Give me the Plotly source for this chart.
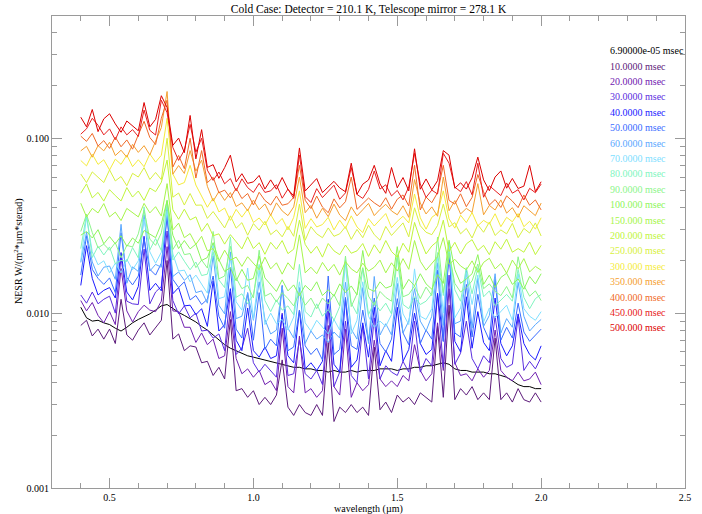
import plotly.graph_objects as go

WAVELENGTH = [0.40, 0.42, 0.44, 0.46, 0.48, 0.50, 0.52, 0.54, 0.56, 0.58,
              0.60, 0.62, 0.64, 0.66, 0.68, 0.70, 0.72, 0.74, 0.76, 0.78,
              0.80, 0.82, 0.84, 0.86, 0.88, 0.90, 0.92, 0.94, 0.96, 0.98,
              1.00, 1.02, 1.04, 1.06, 1.08, 1.10, 1.12, 1.14, 1.16, 1.18,
              1.20, 1.22, 1.24, 1.26, 1.28, 1.30, 1.32, 1.34, 1.36, 1.38,
              1.40, 1.42, 1.44, 1.46, 1.48, 1.50, 1.52, 1.54, 1.56, 1.58,
              1.60, 1.62, 1.64, 1.66, 1.68, 1.70, 1.72, 1.74, 1.76, 1.78,
              1.80, 1.82, 1.84, 1.86, 1.88, 1.90, 1.92, 1.94, 1.96, 1.98,
              2.00]

LABELS = ["6.90000e-05 msec", "10.0000 msec", "20.0000 msec", "30.0000 msec",
          "40.0000 msec", "50.0000 msec", "60.0000 msec", "70.0000 msec",
          "80.0000 msec", "90.0000 msec", "100.000 msec", "150.000 msec",
          "200.000 msec", "250.000 msec", "300.000 msec", "350.000 msec",
          "400.000 msec", "450.000 msec", "500.000 msec"]

COLORS = ["#000000", "#5c1a7a", "#7020b0", "#5a2ee0", "#1a1aff", "#3a6cff",
          "#5aa8ff", "#80e0ff", "#80f5c0", "#8cf58a", "#8cf55a", "#a6f54a",
          "#c0f53c", "#d8f040", "#f5ec3c", "#f5a030", "#f06a28", "#e82020",
          "#dc0000"]

NESR_0000 = [0.0108, 0.0094, 0.0090, 0.0091, 0.0088, 0.0086, 0.0082, 0.0079, 0.0083, 0.0088,
             0.0092, 0.0095, 0.0099, 0.0104, 0.0110, 0.0112, 0.0106, 0.0101, 0.0097, 0.0093,
             0.0089, 0.0084, 0.0080, 0.0075, 0.0070, 0.0066, 0.0063, 0.0061, 0.0059, 0.0057,
             0.0056, 0.0055, 0.0054, 0.0053, 0.0052, 0.0051, 0.0050, 0.0049, 0.0049, 0.0048,
             0.0048, 0.0047, 0.0047, 0.0046, 0.0047, 0.0046, 0.0046, 0.0047, 0.0046, 0.0047,
             0.0047, 0.0047, 0.0048, 0.0048, 0.0048, 0.0047, 0.0048, 0.0048, 0.0049, 0.0049,
             0.0050, 0.0050, 0.0051, 0.0052, 0.0051, 0.0048, 0.0047, 0.0047, 0.0046, 0.0046,
             0.0046, 0.0045, 0.0045, 0.0044, 0.0043, 0.0041, 0.0039, 0.0038, 0.0038, 0.0037,
             0.0037]

NESR_010 = [0.0085, 0.0091, 0.0074, 0.0081, 0.0071, 0.0081, 0.0067, 0.0120, 0.0075, 0.0070,
            0.0080, 0.0088, 0.0075, 0.0083, 0.0091, 0.0200, 0.0071, 0.0076, 0.0061, 0.0065,
            0.0064, 0.0052, 0.0053, 0.0044, 0.0049, 0.0042, 0.0092, 0.0036, 0.0037, 0.0033,
            0.0036, 0.0030, 0.0033, 0.0030, 0.0034, 0.0054, 0.0029, 0.0026, 0.0030, 0.0027,
            0.0026, 0.0030, 0.0026, 0.0068, 0.0024, 0.0029, 0.0027, 0.0030, 0.0027, 0.0029,
            0.0026, 0.0064, 0.0028, 0.0031, 0.0027, 0.0034, 0.0031, 0.0033, 0.0030, 0.0035,
            0.0033, 0.0031, 0.0084, 0.0033, 0.0111, 0.0032, 0.0037, 0.0034, 0.0038, 0.0032,
            0.0035, 0.0032, 0.0072, 0.0032, 0.0035, 0.0031, 0.0037, 0.0032, 0.0031, 0.0035,
            0.0031]

NESR_020 = [0.0118, 0.0103, 0.0115, 0.0097, 0.0088, 0.0102, 0.0086, 0.0180, 0.0103, 0.0089,
            0.0102, 0.0111, 0.0104, 0.0102, 0.0117, 0.0240, 0.0103, 0.0102, 0.0083, 0.0083,
            0.0068, 0.0077, 0.0066, 0.0071, 0.0055, 0.0057, 0.0102, 0.0055, 0.0045, 0.0048,
            0.0043, 0.0047, 0.0039, 0.0041, 0.0036, 0.0082, 0.0038, 0.0035, 0.0074, 0.0035,
            0.0037, 0.0033, 0.0036, 0.0085, 0.0038, 0.0034, 0.0081, 0.0033, 0.0040, 0.0036,
            0.0039, 0.0070, 0.0042, 0.0038, 0.0041, 0.0038, 0.0044, 0.0041, 0.0066, 0.0047,
            0.0041, 0.0045, 0.0088, 0.0047, 0.0138, 0.0052, 0.0044, 0.0045, 0.0041, 0.0048,
            0.0043, 0.0047, 0.0080, 0.0047, 0.0043, 0.0041, 0.0046, 0.0041, 0.0042, 0.0046,
            0.0039]

NESR_030 = [0.0127, 0.0114, 0.0132, 0.0113, 0.0120, 0.0125, 0.0100, 0.0208, 0.0117, 0.0113,
            0.0112, 0.0232, 0.0113, 0.0132, 0.0142, 0.0295, 0.0118, 0.0099, 0.0110, 0.0094,
            0.0100, 0.0079, 0.0080, 0.0072, 0.0076, 0.0061, 0.0132, 0.0058, 0.0063, 0.0082,
            0.0052, 0.0046, 0.0051, 0.0047, 0.0043, 0.0100, 0.0044, 0.0045, 0.0070, 0.0045,
            0.0042, 0.0047, 0.0039, 0.0105, 0.0038, 0.0046, 0.0090, 0.0044, 0.0040, 0.0085,
            0.0042, 0.0094, 0.0042, 0.0050, 0.0046, 0.0044, 0.0053, 0.0046, 0.0090, 0.0046,
            0.0055, 0.0050, 0.0128, 0.0049, 0.0165, 0.0051, 0.0059, 0.0090, 0.0055, 0.0048,
            0.0057, 0.0052, 0.0096, 0.0055, 0.0049, 0.0051, 0.0095, 0.0047, 0.0053, 0.0048,
            0.0056]

NESR_040 = [0.0144, 0.0243, 0.0158, 0.0127, 0.0135, 0.0140, 0.0122, 0.0222, 0.0132, 0.0119,
            0.0142, 0.0275, 0.0135, 0.0148, 0.0134, 0.0390, 0.0129, 0.0140, 0.0110, 0.0111,
            0.0098, 0.0106, 0.0084, 0.0153, 0.0079, 0.0086, 0.0138, 0.0070, 0.0061, 0.0107,
            0.0061, 0.0056, 0.0064, 0.0055, 0.0057, 0.0098, 0.0057, 0.0052, 0.0104, 0.0048,
            0.0052, 0.0047, 0.0053, 0.0120, 0.0051, 0.0046, 0.0121, 0.0049, 0.0054, 0.0088,
            0.0056, 0.0108, 0.0050, 0.0061, 0.0053, 0.0108, 0.0053, 0.0062, 0.0100, 0.0067,
            0.0058, 0.0062, 0.0130, 0.0069, 0.0228, 0.0069, 0.0060, 0.0124, 0.0063, 0.0102,
            0.0068, 0.0061, 0.0122, 0.0067, 0.0057, 0.0065, 0.0099, 0.0067, 0.0058, 0.0054,
            0.0065]

NESR_050 = [0.0165, 0.0277, 0.0178, 0.0158, 0.0146, 0.0159, 0.0131, 0.0288, 0.0160, 0.0145,
            0.0163, 0.0265, 0.0178, 0.0165, 0.0193, 0.0357, 0.0156, 0.0140, 0.0151, 0.0119,
            0.0126, 0.0112, 0.0120, 0.0163, 0.0096, 0.0082, 0.0182, 0.0081, 0.0072, 0.0131,
            0.0070, 0.0131, 0.0062, 0.0071, 0.0065, 0.0144, 0.0061, 0.0064, 0.0104, 0.0065,
            0.0058, 0.0063, 0.0054, 0.0163, 0.0058, 0.0062, 0.0123, 0.0065, 0.0062, 0.0104,
            0.0069, 0.0122, 0.0067, 0.0060, 0.0071, 0.0121, 0.0077, 0.0066, 0.0122, 0.0067,
            0.0080, 0.0071, 0.0176, 0.0069, 0.0238, 0.0077, 0.0073, 0.0146, 0.0073, 0.0128,
            0.0083, 0.0070, 0.0156, 0.0070, 0.0083, 0.0072, 0.0114, 0.0078, 0.0069, 0.0075,
            0.0081]

NESR_060 = [0.0195, 0.0290, 0.0196, 0.0163, 0.0183, 0.0186, 0.0156, 0.0322, 0.0148, 0.0184,
            0.0173, 0.0365, 0.0174, 0.0190, 0.0183, 0.0404, 0.0162, 0.0172, 0.0154, 0.0166,
            0.0131, 0.0134, 0.0114, 0.0213, 0.0111, 0.0099, 0.0224, 0.0093, 0.0096, 0.0130,
            0.0091, 0.0151, 0.0092, 0.0076, 0.0080, 0.0142, 0.0082, 0.0072, 0.0140, 0.0067,
            0.0079, 0.0071, 0.0075, 0.0068, 0.0078, 0.0072, 0.0150, 0.0081, 0.0071, 0.0140,
            0.0067, 0.0162, 0.0075, 0.0087, 0.0075, 0.0148, 0.0077, 0.0090, 0.0138, 0.0090,
            0.0079, 0.0096, 0.0194, 0.0085, 0.0243, 0.0087, 0.0090, 0.0176, 0.0082, 0.0158,
            0.0084, 0.0097, 0.0168, 0.0077, 0.0093, 0.0083, 0.0150, 0.0096, 0.0079, 0.0086,
            0.0092]

NESR_070 = [0.0199, 0.0354, 0.0224, 0.0189, 0.0199, 0.0170, 0.0193, 0.0170, 0.0203, 0.0177,
            0.0199, 0.0346, 0.0224, 0.0193, 0.0223, 0.0384, 0.0218, 0.0174, 0.0176, 0.0151,
            0.0165, 0.0146, 0.0130, 0.0250, 0.0121, 0.0124, 0.0208, 0.0116, 0.0104, 0.0181,
            0.0092, 0.0176, 0.0086, 0.0100, 0.0087, 0.0092, 0.0080, 0.0095, 0.0151, 0.0088,
            0.0079, 0.0091, 0.0083, 0.0076, 0.0092, 0.0080, 0.0194, 0.0076, 0.0091, 0.0151,
            0.0096, 0.0083, 0.0090, 0.0084, 0.0098, 0.0160, 0.0099, 0.0086, 0.0179, 0.0096,
            0.0092, 0.0106, 0.0211, 0.0100, 0.0255, 0.0094, 0.0107, 0.0171, 0.0112, 0.0165,
            0.0089, 0.0107, 0.0094, 0.0102, 0.0111, 0.0091, 0.0168, 0.0106, 0.0096, 0.0091,
            0.0102]

NESR_080 = [0.0234, 0.0368, 0.0208, 0.0241, 0.0215, 0.0239, 0.0192, 0.0200, 0.0198, 0.0237,
            0.0207, 0.0405, 0.0230, 0.0267, 0.0228, 0.0427, 0.0201, 0.0224, 0.0198, 0.0177,
            0.0196, 0.0164, 0.0167, 0.0224, 0.0155, 0.0140, 0.0272, 0.0123, 0.0129, 0.0113,
            0.0128, 0.0190, 0.0118, 0.0102, 0.0119, 0.0104, 0.0110, 0.0098, 0.0190, 0.0102,
            0.0095, 0.0113, 0.0096, 0.0105, 0.0091, 0.0109, 0.0202, 0.0114, 0.0099, 0.0180,
            0.0098, 0.0116, 0.0103, 0.0114, 0.0099, 0.0207, 0.0112, 0.0106, 0.0124, 0.0112,
            0.0117, 0.0129, 0.0222, 0.0126, 0.0230, 0.0136, 0.0117, 0.0182, 0.0129, 0.0182,
            0.0124, 0.0134, 0.0110, 0.0119, 0.0128, 0.0117, 0.0178, 0.0123, 0.0106, 0.0121,
            0.0128]

NESR_090 = [0.0293, 0.0367, 0.0289, 0.0236, 0.0248, 0.0229, 0.0253, 0.0207, 0.0244, 0.0239,
            0.0284, 0.0387, 0.0265, 0.0244, 0.0288, 0.0442, 0.0231, 0.0261, 0.0216, 0.0219,
            0.0182, 0.0201, 0.0181, 0.0293, 0.0157, 0.0163, 0.0241, 0.0159, 0.0138, 0.0144,
            0.0122, 0.0229, 0.0125, 0.0130, 0.0116, 0.0131, 0.0121, 0.0110, 0.0131, 0.0111,
            0.0122, 0.0106, 0.0122, 0.0113, 0.0128, 0.0110, 0.0212, 0.0109, 0.0129, 0.0182,
            0.0125, 0.0111, 0.0133, 0.0123, 0.0117, 0.0216, 0.0124, 0.0128, 0.0143, 0.0121,
            0.0141, 0.0126, 0.0272, 0.0131, 0.0221, 0.0148, 0.0132, 0.0140, 0.0153, 0.0191,
            0.0138, 0.0147, 0.0133, 0.0126, 0.0142, 0.0122, 0.0210, 0.0144, 0.0125, 0.0134,
            0.0118]

NESR_100 = [0.0279, 0.0293, 0.0269, 0.0300, 0.0249, 0.0274, 0.0249, 0.0277, 0.0241, 0.0269,
            0.0251, 0.0297, 0.0283, 0.0270, 0.0324, 0.0440, 0.0279, 0.0234, 0.0260, 0.0233,
            0.0248, 0.0200, 0.0208, 0.0253, 0.0202, 0.0173, 0.0182, 0.0153, 0.0178, 0.0154,
            0.0158, 0.0212, 0.0159, 0.0145, 0.0133, 0.0155, 0.0134, 0.0145, 0.0126, 0.0144,
            0.0134, 0.0151, 0.0126, 0.0136, 0.0125, 0.0147, 0.0131, 0.0143, 0.0127, 0.0228,
            0.0138, 0.0133, 0.0151, 0.0139, 0.0143, 0.0240, 0.0137, 0.0156, 0.0143, 0.0168,
            0.0147, 0.0137, 0.0166, 0.0148, 0.0261, 0.0177, 0.0148, 0.0157, 0.0168, 0.0216,
            0.0146, 0.0165, 0.0140, 0.0160, 0.0169, 0.0146, 0.0157, 0.0137, 0.0162, 0.0147,
            0.0168]

NESR_150 = [0.0425, 0.0355, 0.0397, 0.0374, 0.0423, 0.0355, 0.0378, 0.0338, 0.0397, 0.0374,
            0.0355, 0.0424, 0.0374, 0.0406, 0.0359, 0.0550, 0.0299, 0.0327, 0.0270, 0.0285,
            0.0247, 0.0275, 0.0227, 0.0234, 0.0198, 0.0229, 0.0201, 0.0209, 0.0185, 0.0210,
            0.0192, 0.0177, 0.0209, 0.0179, 0.0194, 0.0167, 0.0194, 0.0177, 0.0280, 0.0170,
            0.0183, 0.0168, 0.0195, 0.0174, 0.0190, 0.0165, 0.0197, 0.0179, 0.0170, 0.0193,
            0.0174, 0.0183, 0.0201, 0.0170, 0.0194, 0.0174, 0.0205, 0.0178, 0.0260, 0.0198,
            0.0176, 0.0193, 0.0210, 0.0270, 0.0190, 0.0203, 0.0186, 0.0177, 0.0199, 0.0171,
            0.0195, 0.0206, 0.0179, 0.0192, 0.0169, 0.0201, 0.0179, 0.0205, 0.0172, 0.0185,
            0.0176]

NESR_200 = [0.0485, 0.0548, 0.0456, 0.0490, 0.0437, 0.0508, 0.0470, 0.0438, 0.0522, 0.0461,
            0.0499, 0.0441, 0.0519, 0.0495, 0.0560, 0.0750, 0.0390, 0.0344, 0.0393, 0.0341,
            0.0355, 0.0293, 0.0326, 0.0277, 0.0284, 0.0248, 0.0281, 0.0255, 0.0233, 0.0273,
            0.0234, 0.0253, 0.0217, 0.0254, 0.0232, 0.0260, 0.0219, 0.0232, 0.0340, 0.0247,
            0.0220, 0.0241, 0.0209, 0.0250, 0.0227, 0.0216, 0.0245, 0.0220, 0.0227, 0.0250,
            0.0211, 0.0246, 0.0220, 0.0260, 0.0225, 0.0209, 0.0251, 0.0223, 0.0330, 0.0262,
            0.0218, 0.0242, 0.0258, 0.0340, 0.0225, 0.0254, 0.0218, 0.0249, 0.0263, 0.0228,
            0.0244, 0.0216, 0.0256, 0.0232, 0.0265, 0.0223, 0.0234, 0.0223, 0.0255, 0.0216,
            0.0244]

NESR_250 = [0.0624, 0.0558, 0.0642, 0.0600, 0.0558, 0.0659, 0.0570, 0.0604, 0.0535, 0.0630,
            0.0600, 0.0679, 0.0581, 0.0637, 0.0580, 0.1000, 0.0460, 0.0486, 0.0415, 0.0483,
            0.0414, 0.0415, 0.0348, 0.0381, 0.0341, 0.0307, 0.0360, 0.0306, 0.0329, 0.0279,
            0.0325, 0.0298, 0.0335, 0.0281, 0.0299, 0.0273, 0.0313, 0.0275, 0.0420, 0.0261,
            0.0312, 0.0284, 0.0270, 0.0307, 0.0275, 0.0284, 0.0312, 0.0264, 0.0301, 0.0270,
            0.0318, 0.0281, 0.0261, 0.0313, 0.0278, 0.0302, 0.0328, 0.0273, 0.0400, 0.0316,
            0.0290, 0.0281, 0.0317, 0.0420, 0.0311, 0.0329, 0.0284, 0.0305, 0.0269, 0.0320,
            0.0290, 0.0332, 0.0278, 0.0299, 0.0284, 0.0326, 0.0270, 0.0305, 0.0287, 0.0328,
            0.0276]

NESR_300 = [0.0746, 0.0695, 0.0811, 0.0709, 0.0753, 0.0659, 0.0759, 0.0709, 0.0802, 0.0688,
            0.0753, 0.0687, 0.0813, 0.0730, 0.0799, 0.1300, 0.0624, 0.0541, 0.0558, 0.0700,
            0.0540, 0.0470, 0.0403, 0.0455, 0.0379, 0.0399, 0.0339, 0.0392, 0.0354, 0.0393,
            0.0330, 0.0350, 0.0319, 0.0366, 0.0322, 0.0348, 0.0299, 0.0353, 0.0500, 0.0305,
            0.0347, 0.0311, 0.0321, 0.0353, 0.0299, 0.0340, 0.0305, 0.0360, 0.0311, 0.0289,
            0.0347, 0.0315, 0.0341, 0.0371, 0.0308, 0.0335, 0.0358, 0.0328, 0.0480, 0.0351,
            0.0302, 0.0353, 0.0373, 0.0500, 0.0346, 0.0306, 0.0363, 0.0329, 0.0376, 0.0316,
            0.0339, 0.0323, 0.0370, 0.0312, 0.0353, 0.0333, 0.0371, 0.0312, 0.0335, 0.0302,
            0.0351]

NESR_350 = [0.0847, 0.0899, 0.0779, 0.0907, 0.0847, 0.0949, 0.0796, 0.0854, 0.0779, 0.0923,
            0.0830, 0.0907, 0.0803, 0.0970, 0.1150, 0.1850, 0.0623, 0.0698, 0.0629, 0.0850,
            0.0649, 0.0750, 0.0531, 0.0437, 0.0495, 0.0441, 0.0489, 0.0407, 0.0427, 0.0385,
            0.0443, 0.0390, 0.0421, 0.0362, 0.0427, 0.0384, 0.0361, 0.0405, 0.0600, 0.0375,
            0.0413, 0.0349, 0.0398, 0.0356, 0.0420, 0.0364, 0.0338, 0.0405, 0.0360, 0.0390,
            0.0424, 0.0361, 0.0392, 0.0419, 0.0384, 0.0365, 0.0411, 0.0353, 0.0580, 0.0426,
            0.0369, 0.0405, 0.0358, 0.0600, 0.0385, 0.0440, 0.0369, 0.0397, 0.0377, 0.0550,
            0.0365, 0.0413, 0.0389, 0.0444, 0.0373, 0.0401, 0.0353, 0.0411, 0.0384, 0.0361,
            0.0426]

NESR_400 = [0.1028, 0.0960, 0.1065, 0.0903, 0.0969, 0.0875, 0.1015, 0.0894, 0.0978, 0.0866,
            0.1046, 0.1250, 0.1009, 0.0921, 0.1300, 0.1650, 0.0685, 0.0797, 0.0670, 0.1000,
            0.0592, 0.0850, 0.0557, 0.0598, 0.0488, 0.0505, 0.0456, 0.0518, 0.0452, 0.0483,
            0.0415, 0.0491, 0.0441, 0.0415, 0.0467, 0.0414, 0.0422, 0.0459, 0.0700, 0.0442,
            0.0396, 0.0467, 0.0404, 0.0375, 0.0450, 0.0400, 0.0434, 0.0600, 0.0392, 0.0425,
            0.0455, 0.0427, 0.0406, 0.0457, 0.0393, 0.0448, 0.0474, 0.0410, 0.0700, 0.0389,
            0.0461, 0.0428, 0.0489, 0.0700, 0.0441, 0.0420, 0.0481, 0.0406, 0.0459, 0.0620,
            0.0494, 0.0415, 0.0446, 0.0402, 0.0468, 0.0437, 0.0401, 0.0474, 0.0414, 0.0444,
            0.0389]

NESR_450 = [0.1055, 0.1132, 0.1300, 0.1186, 0.1045, 0.1131, 0.0981, 0.1161, 0.1045, 0.1120,
            0.1023, 0.1450, 0.1110, 0.1043, 0.1650, 0.1400, 0.0886, 0.0747, 0.0855, 0.1200,
            0.0833, 0.1000, 0.0657, 0.0574, 0.0641, 0.0549, 0.0588, 0.0500, 0.0586, 0.0522,
            0.0490, 0.0552, 0.0490, 0.0500, 0.0543, 0.0454, 0.0512, 0.0453, 0.0800, 0.0463,
            0.0429, 0.0515, 0.0458, 0.0496, 0.0539, 0.0448, 0.0487, 0.0680, 0.0477, 0.0453,
            0.0510, 0.0650, 0.0512, 0.0542, 0.0468, 0.0503, 0.0444, 0.0527, 0.0820, 0.0547,
            0.0459, 0.0505, 0.0480, 0.0820, 0.0720, 0.0525, 0.0495, 0.0565, 0.0475, 0.0720,
            0.0460, 0.0535, 0.0500, 0.0470, 0.0555, 0.0485, 0.0508, 0.0444, 0.0517, 0.0488,
            0.0547]

NESR_500 = [0.1319, 0.1162, 0.1460, 0.1091, 0.1291, 0.1380, 0.1208, 0.1081, 0.1255, 0.1174,
            0.1103, 0.1600, 0.1162, 0.1283, 0.1750, 0.1500, 0.0911, 0.1002, 0.0827, 0.1350,
            0.0762, 0.1120, 0.0681, 0.0706, 0.0590, 0.0679, 0.0800, 0.0563, 0.0627, 0.0552,
            0.0563, 0.0613, 0.0512, 0.0578, 0.0511, 0.0596, 0.0510, 0.0468, 0.0880, 0.0499,
            0.0541, 0.0588, 0.0489, 0.0530, 0.0567, 0.0520, 0.0494, 0.0720, 0.0478, 0.0546,
            0.0577, 0.0700, 0.0548, 0.0484, 0.0680, 0.0521, 0.0596, 0.0500, 0.0870, 0.0511,
            0.0585, 0.0507, 0.0572, 0.0850, 0.0800, 0.0518, 0.0556, 0.0512, 0.0594, 0.0780,
            0.0578, 0.0501, 0.0600, 0.0650, 0.0518, 0.0589, 0.0516, 0.0532, 0.0700, 0.0495,
            0.0564]

SERIES = [NESR_0000, NESR_010, NESR_020, NESR_030, NESR_040, NESR_050, NESR_060,
          NESR_070, NESR_080, NESR_090, NESR_100, NESR_150, NESR_200, NESR_250,
          NESR_300, NESR_350, NESR_400, NESR_450, NESR_500]

X_TICKS = [0.5, 1.0, 1.5, 2.0, 2.5]
X_TICKTEXT = ["0.5", "1.0", "1.5", "2.0", "2.5"]
Y_TICKS = [0.001, 0.01, 0.1]
Y_TICKTEXT = ["0.001", "0.010", "0.100"]
Y_MINOR = [0.002, 0.003, 0.004, 0.005, 0.006, 0.007, 0.008, 0.009,
           0.02, 0.03, 0.04, 0.05, 0.06, 0.07, 0.08, 0.09,
           0.2, 0.3, 0.4]

FONT = "Liberation Serif"
AXIS_GREY = "#9a9a9a"
W, H = 702, 514
ML, MR, MT, MB = 52, 17, 16, 26
PW, PH = W - ML - MR, H - MT - MB

fig = go.Figure()
for vals, col, lab in zip(SERIES, COLORS, LABELS):
    fig.add_trace(go.Scatter(x=WAVELENGTH, y=vals, mode="lines", name=lab,
                             line=dict(color=col, width=1), showlegend=False,
                             hoverinfo="skip"))

# text legend at the right
row0_px = 50.7
step_px = 15.4
for k, (col, lab) in enumerate(zip(COLORS, LABELS)):
    fig.add_annotation(xref="paper", yref="paper", x=(608 - ML) / PW,
                       y=1 - (row0_px + k * step_px - MT) / PH,
                       text=lab, showarrow=False, xanchor="left", yanchor="middle",
                       font=dict(family=FONT, size=10, color=col))

# axis titles
fig.add_annotation(xref="paper", yref="paper", x=0.5, y=-(509 - (H - MB)) / PH,
                   text="wavelength (µm)", showarrow=False,
                   xanchor="center", yanchor="middle",
                   font=dict(family=FONT, size=10, color="black"))
fig.add_annotation(xref="paper", yref="paper", x=-(ML - 18) / PW, y=0.5,
                   text="NESR W/(m<sup>2</sup>*µm*sterad)", showarrow=False,
                   textangle=-90, xanchor="center", yanchor="middle",
                   font=dict(family=FONT, size=10, color="black"))

fig.update_layout(
    width=W, height=H,
    margin=dict(l=ML, r=MR, t=MT, b=MB, autoexpand=False),
    paper_bgcolor="white", plot_bgcolor="white",
    font=dict(family=FONT, size=10, color="black"),
    title=dict(text="Cold Case: Detector = 210.1 K, Telescope mirror = 278.1 K",
               x=0.5, xref="paper", xanchor="center",
               y=1 - 9 / H, yref="container", yanchor="middle",
               font=dict(family=FONT, size=11.5, color="black")),
)

fig.update_xaxes(
    range=[0.3, 2.5], showgrid=False, zeroline=False, automargin=False,
    showline=True, linecolor=AXIS_GREY, linewidth=1, mirror="ticks",
    ticks="inside", ticklen=10, tickcolor=AXIS_GREY, tickwidth=1,
    tickvals=X_TICKS, ticktext=X_TICKTEXT,
    tickfont=dict(family=FONT, size=10, color="black"),
    minor=dict(dtick=0.1, tick0=0.3, ticks="inside", ticklen=5,
               tickcolor=AXIS_GREY, showgrid=False),
)

fig.update_yaxes(
    type="log", range=[-3, -0.30103], showgrid=False, zeroline=False, automargin=False,
    showline=True, linecolor=AXIS_GREY, linewidth=1, mirror="ticks",
    ticks="inside", ticklen=10, tickcolor=AXIS_GREY, tickwidth=1,
    tickvals=Y_TICKS, ticktext=Y_TICKTEXT,
    tickfont=dict(family=FONT, size=10, color="black"),
    minor=dict(tickvals=Y_MINOR, ticks="inside", ticklen=5,
               tickcolor=AXIS_GREY, showgrid=False),
)

fig.write_html("out.html", config={"displayModeBar": False},
               post_script="document.body.style.margin='0px';")
